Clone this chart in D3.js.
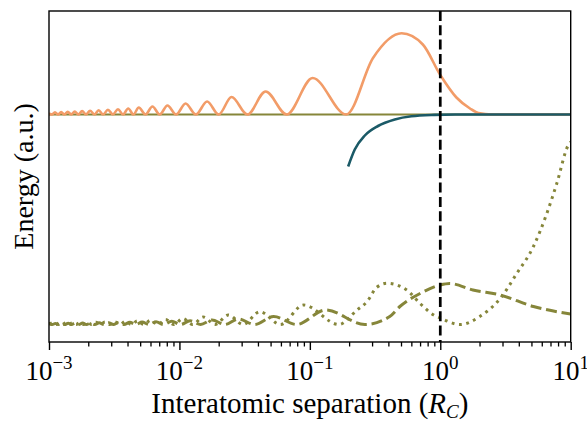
<!DOCTYPE html>
<html>
<head>
<meta charset="utf-8">
<script src="https://cdn.jsdelivr.net/npm/d3@7"></script>
<style>
  body { margin: 0; background: #fff; }
  svg { display: block; }
  text { font-family: "Liberation Serif", "Times New Roman", serif; fill: #000; }
</style>
</head>
<body>
<svg id="chart" width="587" height="421"></svg>
<script>
// Axis ticks (log decades) and their exponent labels
const decadeTicks = [1e-3, 1e-2, 1e-1, 1e0, 1e1];
const decadeExponents = ["\u22123", "\u22122", "\u22121", "0", "1"];
const separatrixX = 1;

// Threshold of the upper potential (flat reference line)
const upperLevelX = [1e-3, 10];
const upperLevelY = [0, 0];

// Scattering density above the threshold
const densityX = [0.001, 0.001054, 0.001111, 0.001173, 0.00124, 0.001313, 0.001392, 0.001479,
  0.001575, 0.00168, 0.001795, 0.001924, 0.002066, 0.002225, 0.002403, 0.002603, 0.00283,
  0.003086, 0.00338, 0.003695, 0.00405, 0.00444, 0.00488, 0.00549, 0.00621, 0.00706, 0.00809,
  0.00943, 0.01115, 0.01336, 0.0163, 0.02, 0.0251, 0.0332, 0.0458, 0.0664, 0.105, 0.19, 0.305,
  0.505, 0.735, 1.0, 1.33, 1.69, 1.96, 2.5, 10];
const densityY = [0.010, 0, 0.022, 0, 0.024, 0, 0.027, 0,
  0.030, 0, 0.034, 0, 0.038, 0, 0.042, 0, 0.048,
  0, 0.053, 0, 0.060, 0, 0.070, 0, 0.080, 0, 0.090,
  0, 0.110, 0, 0.130, 0, 0.175, 0, 0.230, 0, 0.365, 0, 0.565,
  0.812, 0.700, 0.395, 0.170, 0.060, 0.015, 0, 0];

// Short-range potential curve
const potentialX = [0.1966, 0.221, 0.264, 0.333, 0.448, 0.601, 0.9, 1.3, 10];
const potentialY = [-0.52, -0.35, -0.21, -0.115, -0.05, -0.018, -0.004, 0, 0];

// Lower-channel components (dashed and dotted)
const dashedX = [0.001, 0.001061, 0.001119, 0.001181, 0.001249, 0.001322, 0.001403, 0.001491,
  0.001587, 0.001694, 0.001811, 0.00194, 0.002085, 0.002246, 0.002427, 0.00263, 0.00286,
  0.003121, 0.00342, 0.003764, 0.004162, 0.00463, 0.005176, 0.00583, 0.00661, 0.00756,
  0.008734, 0.0102, 0.01208, 0.01452, 0.01778, 0.0223, 0.0283, 0.0377, 0.0528, 0.079,
  0.1322, 0.264, 0.41, 0.49, 0.70, 1.0, 1.18, 1.78, 2.88, 5.18, 10];
const dashedY = [-2.090, -2.100, -2.089, -2.100, -2.088, -2.100, -2.087, -2.100,
  -2.086, -2.100, -2.085, -2.100, -2.084, -2.100, -2.083, -2.100, -2.082,
  -2.100, -2.080, -2.100, -2.078, -2.100, -2.075, -2.100, -2.072, -2.100,
  -2.068, -2.100, -2.062, -2.100, -2.055, -2.100, -2.045, -2.100, -2.020, -2.100,
  -1.955, -2.100, -2.020, -1.920, -1.790, -1.705, -1.690, -1.755, -1.805, -1.920, -1.995];

const dottedX = [0.001, 0.001075, 0.001134, 0.001197, 0.001266, 0.001342, 0.001424, 0.001514,
  0.001613, 0.001722, 0.001842, 0.001975, 0.002124, 0.002289, 0.002475, 0.002685, 0.002922,
  0.00319, 0.003501, 0.00386, 0.004272, 0.00476, 0.005328, 0.00601, 0.00683, 0.00783,
  0.00907, 0.01063, 0.01262, 0.01524, 0.01877, 0.0237, 0.0308, 0.0414, 0.0595, 0.0895,
  0.1666, 0.23, 0.275, 0.325, 0.39, 0.553, 0.70, 0.74, 0.89, 1.0, 1.42, 2.01, 2.88, 3.86,
  5.18, 6.56, 7.82, 9.6, 10];
const dottedY = [-2.090, -2.086, -2.100, -2.085, -2.100, -2.084, -2.100, -2.083,
  -2.100, -2.081, -2.100, -2.079, -2.100, -2.077, -2.100, -2.075, -2.100,
  -2.072, -2.100, -2.068, -2.100, -2.064, -2.100, -2.058, -2.100, -2.050,
  -2.100, -2.040, -2.100, -2.025, -2.100, -2.005, -2.100, -1.972, -2.100, -1.905,
  -2.100, -1.955, -1.870, -1.730, -1.688, -1.755, -1.890, -1.920, -2.005, -2.035, -2.100, -2.020, -1.840, -1.590,
  -1.320, -0.990, -0.690, -0.305, -0.275];

const colors = {
  density: "#f29c68",
  potential: "#1b5a67",
  olive: "#86863a"
};

const svg = d3.select("#chart");
const plot = { left: 49, right: 570.7, top: 11, bottom: 342 };

const x = d3.scaleLog().domain([1e-3, 1e1]).range([plot.left, plot.right]);
const y = d3.scaleLinear().domain([-2.275, 1.035]).range([plot.bottom, plot.top]);

svg.append("defs").append("clipPath").attr("id", "plotClip")
  .append("rect")
  .attr("x", plot.left).attr("y", plot.top)
  .attr("width", plot.right - plot.left).attr("height", plot.bottom - plot.top);

const g = svg.append("g").attr("clip-path", "url(#plotClip)");

const line = d3.line()
  .x(d => x(d[0]))
  .y(d => y(d[1]))
  .curve(d3.curveMonotoneX);

function drawSeries(xs, ys, color, width, dash) {
  const p = g.append("path")
    .datum(d3.zip(xs, ys))
    .attr("d", line)
    .attr("fill", "none")
    .attr("stroke", color)
    .attr("stroke-width", width)
    .attr("stroke-linejoin", "round")
    .attr("stroke-linecap", "butt");
  if (dash) p.attr("stroke-dasharray", dash);
  return p;
}

// lower channel
drawSeries(dashedX, dashedY, colors.olive, 3, "11,4.8");
drawSeries(dottedX, dottedY, colors.olive, 3, "2.8,4.6");
// upper channel
drawSeries(upperLevelX, upperLevelY, colors.olive, 2);
drawSeries(densityX, densityY, colors.density, 2.6);
drawSeries(potentialX, potentialY, colors.potential, 2.6);

// vertical marker at R = R_C
g.append("line")
  .attr("x1", x(separatrixX)).attr("x2", x(separatrixX))
  .attr("y1", plot.top).attr("y2", plot.bottom)
  .attr("stroke", "#000").attr("stroke-width", 2.7)
  .attr("stroke-dasharray", "10,4.3");

// bottom axis: major and minor ticks
const minorTicks = [];
for (let e = -3; e < 1; e++) for (let m = 2; m <= 9; m++) minorTicks.push(m * Math.pow(10, e));

svg.append("g")
  .attr("transform", `translate(0,${plot.bottom})`)
  .call(d3.axisBottom(x).tickValues(minorTicks).tickSize(4.5).tickFormat(""))
  .call(a => a.select(".domain").remove())
  .call(a => a.selectAll("line").attr("stroke", "#000").attr("stroke-width", 1.3));

svg.append("g")
  .attr("transform", `translate(0,${plot.bottom})`)
  .call(d3.axisBottom(x).tickValues(decadeTicks).tickSize(8).tickFormat(""))
  .call(a => a.select(".domain").remove())
  .call(a => a.selectAll("line").attr("stroke", "#000").attr("stroke-width", 1.4));

// decade labels 10^n
const labels = svg.append("g");
decadeTicks.forEach((t, i) => {
  const txt = labels.append("text")
    .attr("x", x(t)).attr("y", 380)
    .attr("text-anchor", "middle")
    .attr("font-size", 27);
  txt.append("tspan").text("10");
  txt.append("tspan").attr("font-size", 19).attr("dy", -11).text(decadeExponents[i]);
});

// frame
svg.append("rect")
  .attr("x", plot.left).attr("y", plot.top)
  .attr("width", plot.right - plot.left).attr("height", plot.bottom - plot.top)
  .attr("fill", "none").attr("stroke", "#000").attr("stroke-width", 1.4);

// axis titles
const xt = svg.append("text")
  .attr("x", (plot.left + plot.right) / 2).attr("y", 413)
  .attr("text-anchor", "middle").attr("font-size", 29);
xt.append("tspan").text("Interatomic separation (");
xt.append("tspan").attr("font-style", "italic").text("R");
xt.append("tspan").attr("font-style", "italic").attr("font-size", 19).attr("dy", 5).text("C");
xt.append("tspan").attr("dy", -5).text(")");

svg.append("text")
  .attr("transform", `translate(32.5,${(plot.top + plot.bottom) / 2}) rotate(-90)`)
  .attr("text-anchor", "middle").attr("font-size", 28)
  .text("Energy (a.u.)");
</script>
</body>
</html>
